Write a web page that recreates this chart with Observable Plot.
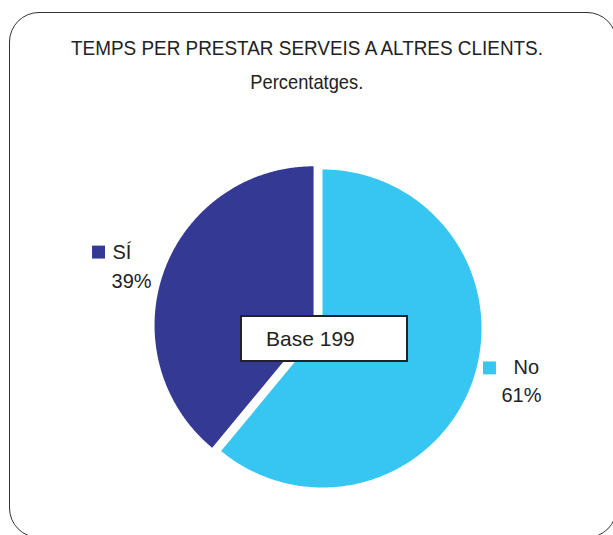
<!DOCTYPE html>
<html>
<head>
<meta charset="utf-8">
<script src="https://cdn.jsdelivr.net/npm/d3@7"></script>
<script src="https://cdn.jsdelivr.net/npm/@observablehq/plot@0.6"></script>
<style>
  html, body { margin: 0; padding: 0; background: #fff; }
  body { width: 613px; height: 535px; overflow: hidden; position: relative; font-family: "Liberation Sans", Arial, sans-serif; color: #222; }
  #frame { position: absolute; left: 9px; top: 12px; width: 606px; height: 524px; border: 1.5px solid #333; border-radius: 30px; pointer-events: none; }
  #header { position: relative; height: 100px; }
  .ttl { position: absolute; left: 0; width: 613px; text-align: center; line-height: 1; white-space: nowrap; }
  .ttl span { display: inline-block; transform-origin: center; }
  #t1 { top: 37px; font-size: 21px; }
  #t2 { top: 71px; font-size: 21px; }
  #chart { position: relative; }
  #base { position: absolute; left: 240px; top: 315px; width: 164px; height: 43px; border: 2px solid #222; background: #fff; font-size: 21px; line-height: 43px; box-sizing: content-box; }
  #base span { position: absolute; left: 24px; }
</style>
</head>
<body>
<div id="header">
  <div class="ttl" id="t1"><span>TEMPS PER PRESTAR SERVEIS A ALTRES CLIENTS.</span></div>
  <div class="ttl" id="t2"><span>Percentatges.</span></div>
</div>
<div id="chart"></div>
<div id="base"><span>Base 199</span></div>
<div id="frame"></div>
<script>
// ---- data ----
const categories = ["No", "SÍ"];
const values = [61, 39];
const colors = ["#37c6f2", "#343a94"];
const exploded = [false, true];
const baseLabel = "Base 199";

// ---- title fitting (narrow font look) ----
function fit(el, target) {
  const span = el.querySelector("span");
  const w = span.getBoundingClientRect().width;
  span.style.transform = `scaleX(${target / w})`;
}
fit(document.getElementById("t1"), 472);
fit(document.getElementById("t2"), 113);

// ---- geometry ----
const W = 613, H = 435;
const R = 159;               // radius in px
const cx = 322, cy = 228;    // pie centre in svg px
const explodeDist = 9.5 / R;

const pie = d3.pie().sort(null).value(d => d.value);
const rows = categories.map((c, i) => ({cat: c, value: values[i], color: colors[i], exploded: exploded[i]}));
const arcs = pie(rows);

const points = [];
const labels = [];
arcs.forEach(a => {
  const d = a.data;
  const mid = (a.startAngle + a.endAngle) / 2;
  const ox = d.exploded ? Math.sin(mid) * explodeDist : 0;
  const oy = d.exploded ? Math.cos(mid) * explodeDist : 0;
  const n = Math.max(2, Math.ceil((a.endAngle - a.startAngle) / (Math.PI / 360)));
  points.push({cat: d.cat, x: ox, y: oy});
  for (let k = 0; k <= n; k++) {
    const t = a.startAngle + (a.endAngle - a.startAngle) * k / n;
    points.push({cat: d.cat, x: ox + Math.sin(t), y: oy + Math.cos(t)});
  }
  points.push({cat: d.cat, x: ox, y: oy});
  labels.push({cat: d.cat, pct: Math.round(d.value) + "%", color: d.color,
               x: Math.sin(mid) * 1.27, y: Math.cos(mid) * 1.27});
});

// per-slice label offsets (px)
const off = {
  "SÍ": {sq: [-34, -8], name: [-20, -8], pct: [-21, 21]},
  "No": {sq: [-23, -29], name: [1, -29], pct: [-11, -1]}
};

const xDomain = [(0 - cx) / R, (W - cx) / R];
const yDomain = [(cy - H) / R, cy / R];

const marks = [];
categories.forEach((c, i) => {
  marks.push(Plot.line(points.filter(p => p.cat === c), {x: "x", y: "y", fill: colors[i], stroke: "none", curve: "linear"}));
});
labels.forEach(l => {
  const o = off[l.cat];
  marks.push(Plot.dot([l], {x: "x", y: "y", symbol: "square", r: 7.3, fill: l.color, stroke: "none", dx: o.sq[0], dy: o.sq[1]}));
  marks.push(Plot.text([l], {x: "x", y: "y", text: d => d.cat, textAnchor: "start", lineAnchor: "middle", fontSize: 20, fill: "#222", dx: o.name[0], dy: o.name[1]}));
  marks.push(Plot.text([l], {x: "x", y: "y", text: d => d.pct, textAnchor: "start", lineAnchor: "middle", fontSize: 20, fill: "#222", dx: o.pct[0], dy: o.pct[1]}));
});

const chart = Plot.plot({
  width: W, height: H,
  margin: 0,
  x: {domain: xDomain, axis: null},
  y: {domain: yDomain, axis: null},
  style: {fontFamily: "'Liberation Sans', Arial, sans-serif", background: "transparent", overflow: "visible"},
  marks
});
document.getElementById("chart").appendChild(chart);
document.querySelector("#base span").textContent = baseLabel;
</script>
</body>
</html>
